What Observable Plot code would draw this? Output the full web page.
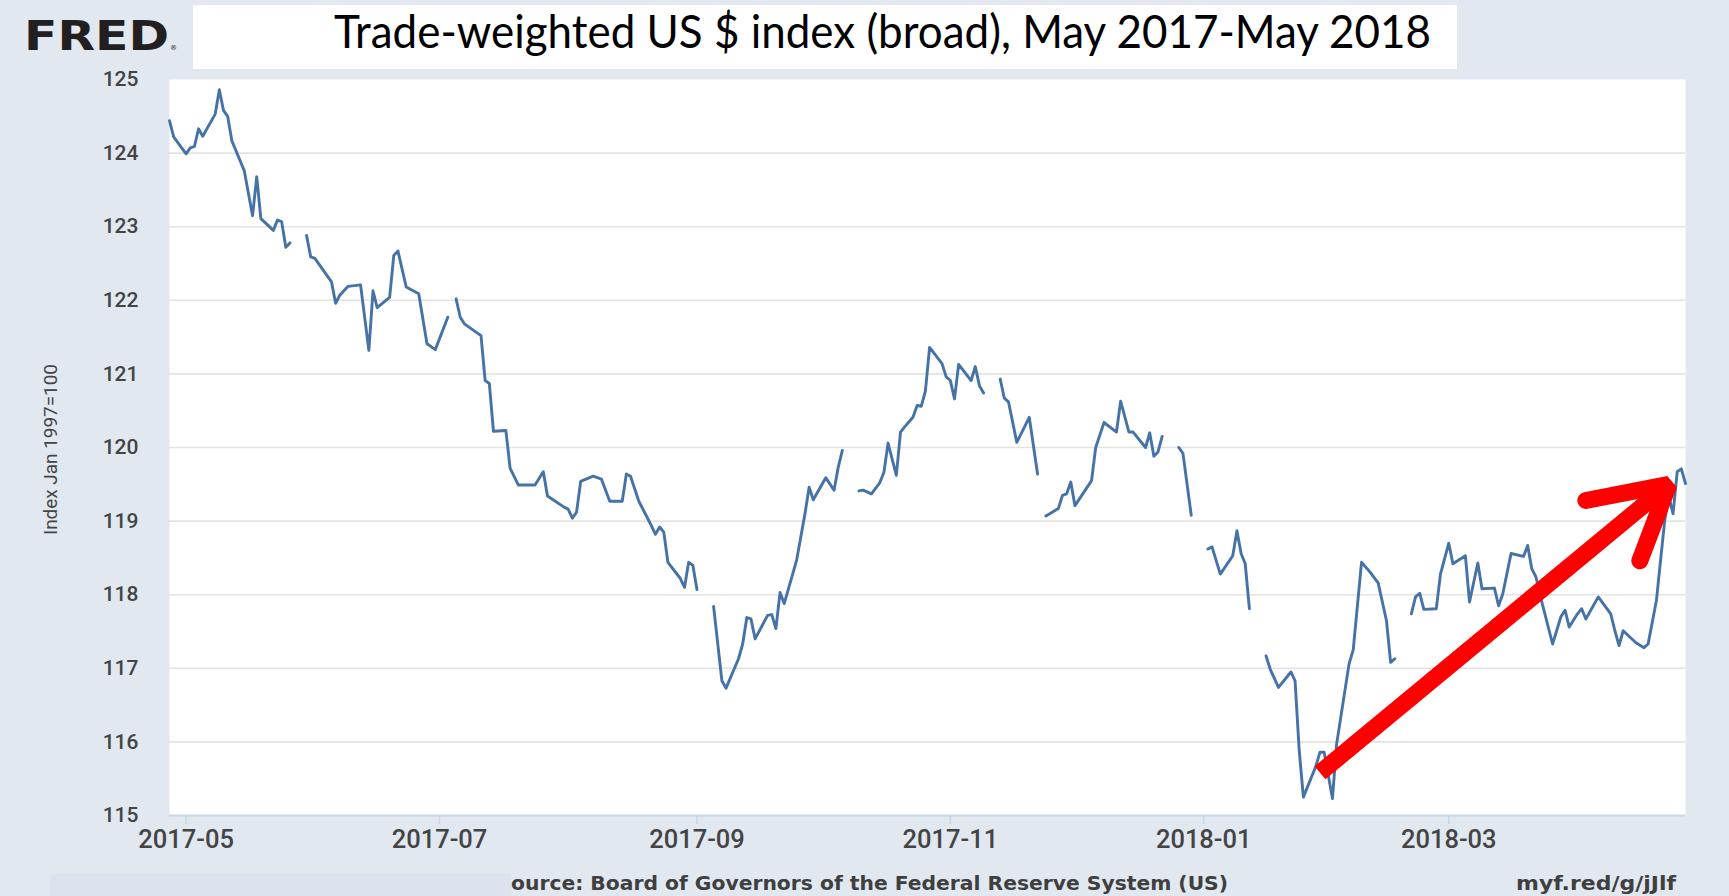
<!DOCTYPE html>
<html>
<head>
<meta charset="utf-8">
<script src="https://cdn.jsdelivr.net/npm/d3@7"></script>
<script src="https://cdn.jsdelivr.net/npm/@observablehq/plot@0.6"></script>
<style>
  html, body { margin: 0; padding: 0; }
  body { width: 1729px; height: 896px; overflow: hidden; background: #e1e8f0; position: relative; }
  #chart { position: absolute; left: 0; top: 0; }
  #overlay { position: absolute; left: 0; top: 0; pointer-events: none; }
</style>
</head>
<body>
<div id="chart"></div>
<svg id="overlay" width="1729" height="896" xmlns="http://www.w3.org/2000/svg">
  <rect x="193" y="5" width="1264" height="64" fill="#ffffff"></rect>
  <text x="334" y="47.5" font-family="Lato, 'Open Sans', sans-serif" font-size="46" fill="#000" textLength="1097" lengthAdjust="spacingAndGlyphs">Trade-weighted US $ index (broad), May 2017-May 2018</text>
  <text x="24" y="50" font-family="'DejaVu Sans', sans-serif" font-weight="bold" font-size="41" fill="#231f20" textLength="145" lengthAdjust="spacingAndGlyphs">FRED</text>
  <text x="170" y="50" font-family="'DejaVu Sans', sans-serif" font-size="7" fill="#231f20">®</text>
  <text transform="translate(57,449.5) rotate(-90)" text-anchor="middle" font-family="Roboto, sans-serif" font-size="18.5" fill="#444" textLength="171" lengthAdjust="spacingAndGlyphs">Index Jan 1997=100</text>
  <rect x="50" y="874" width="461" height="22" fill="#dbe4ee"></rect>
  <text x="511" y="890" font-family="'DejaVu Sans', sans-serif" font-weight="bold" font-size="19" fill="#3f3f3f" textLength="717" lengthAdjust="spacingAndGlyphs">ource: Board of Governors of the Federal Reserve System (US)</text>
  <text x="1516" y="890" font-family="'DejaVu Sans', sans-serif" font-weight="bold" font-size="19" fill="#3f3f3f" textLength="160" lengthAdjust="spacingAndGlyphs">myf.red/g/jJlf</text>
</svg>
<script>
// ---- data (FRED broad trade-weighted dollar index) ----
const xDomain = ["2017-04-27", "2018-04-27"];
const yDomain = [115, 125];
const yTicks = [115, 116, 117, 118, 119, 120, 121, 122, 123, 124, 125];
const gridValues = [116, 117, 118, 119, 120, 121, 122, 123, 124];
const xTicks = ["2017-05-01", "2017-07-01", "2017-09-01", "2017-11-01", "2018-01-01", "2018-03-01"];

const dates = [
  "2017-04-27","2017-04-28","2017-05-01","2017-05-02","2017-05-03","2017-05-04","2017-05-05","2017-05-08","2017-05-09","2017-05-10",
  "2017-05-11","2017-05-12","2017-05-15","2017-05-17","2017-05-18","2017-05-19","2017-05-22","2017-05-23","2017-05-24","2017-05-25",
  "2017-05-26","2017-05-29",
  "2017-05-30","2017-05-31","2017-06-01","2017-06-05","2017-06-06","2017-06-07","2017-06-09","2017-06-12","2017-06-14","2017-06-15",
  "2017-06-16","2017-06-19","2017-06-20","2017-06-21","2017-06-23","2017-06-26","2017-06-28","2017-06-30","2017-07-03","2017-07-04",
  "2017-07-05","2017-07-06","2017-07-07","2017-07-11","2017-07-12","2017-07-13","2017-07-14","2017-07-17","2017-07-18","2017-07-20",
  "2017-07-24","2017-07-26","2017-07-27","2017-07-31","2017-08-01","2017-08-02","2017-08-03","2017-08-04","2017-08-07","2017-08-09",
  "2017-08-11","2017-08-14","2017-08-15","2017-08-16","2017-08-18","2017-08-21","2017-08-22","2017-08-23","2017-08-24","2017-08-25",
  "2017-08-28","2017-08-29","2017-08-30","2017-08-31","2017-09-01","2017-09-04",
  "2017-09-05","2017-09-07","2017-09-08","2017-09-11","2017-09-12","2017-09-13","2017-09-14","2017-09-15","2017-09-18","2017-09-19",
  "2017-09-20","2017-09-21","2017-09-22","2017-09-25","2017-09-27","2017-09-28","2017-09-29","2017-10-02","2017-10-04","2017-10-05",
  "2017-10-06","2017-10-09",
  "2017-10-10","2017-10-11","2017-10-13","2017-10-15","2017-10-16","2017-10-17","2017-10-19","2017-10-20","2017-10-21","2017-10-23",
  "2017-10-24","2017-10-25","2017-10-26","2017-10-27","2017-10-30","2017-10-31","2017-11-01","2017-11-02","2017-11-03","2017-11-06",
  "2017-11-07","2017-11-08","2017-11-09","2017-11-10",
  "2017-11-13","2017-11-14","2017-11-15","2017-11-17","2017-11-20","2017-11-22","2017-11-23",
  "2017-11-24","2017-11-27","2017-11-28","2017-11-29","2017-11-30","2017-12-01","2017-12-05","2017-12-06","2017-12-08","2017-12-11",
  "2017-12-12","2017-12-14","2017-12-15","2017-12-18","2017-12-19","2017-12-20","2017-12-21","2017-12-22","2017-12-25",
  "2017-12-26","2017-12-27","2017-12-29","2018-01-01",
  "2018-01-02","2018-01-03","2018-01-05","2018-01-08","2018-01-09","2018-01-10","2018-01-11","2018-01-12","2018-01-15",
  "2018-01-16","2018-01-17","2018-01-19","2018-01-22","2018-01-23","2018-01-24","2018-01-25","2018-01-28","2018-01-29","2018-01-30",
  "2018-02-01","2018-02-02","2018-02-05","2018-02-06","2018-02-08","2018-02-10","2018-02-12","2018-02-14","2018-02-15","2018-02-16",
  "2018-02-19",
  "2018-02-20","2018-02-21","2018-02-22","2018-02-23","2018-02-26","2018-02-27","2018-03-01","2018-03-02","2018-03-05","2018-03-06",
  "2018-03-08","2018-03-09","2018-03-12","2018-03-13","2018-03-14","2018-03-16","2018-03-19","2018-03-20","2018-03-21","2018-03-22",
  "2018-03-23","2018-03-26","2018-03-28","2018-03-29","2018-03-30","2018-04-01","2018-04-02","2018-04-03","2018-04-06","2018-04-09",
  "2018-04-10","2018-04-11","2018-04-12","2018-04-15","2018-04-17","2018-04-18","2018-04-20","2018-04-21","2018-04-22","2018-04-23",
  "2018-04-24","2018-04-25","2018-04-26","2018-04-27"
];
const values = [
  124.44,124.22,123.99,124.07,124.09,124.33,124.23,124.53,124.86,124.58,
  124.50,124.17,123.76,123.15,123.68,123.11,122.95,123.09,123.07,122.72,
  122.78,null,
  122.88,122.59,122.57,122.25,121.96,122.07,122.19,122.21,121.32,122.13,
  121.90,122.04,122.61,122.67,122.18,122.09,121.41,121.33,121.77,null,
  122.02,121.77,121.68,121.52,120.91,120.87,120.22,120.23,119.72,119.49,
  119.49,119.67,119.34,119.19,119.16,119.04,119.12,119.54,119.61,119.57,
  119.27,119.27,119.64,119.61,119.27,118.94,118.82,118.92,118.85,118.44,
  118.22,118.10,118.44,118.40,118.07,null,
  117.84,116.83,116.73,117.13,117.33,117.69,117.67,117.40,117.72,117.73,
  117.54,118.03,117.88,118.47,119.10,119.46,119.29,119.59,119.42,119.73,
  119.96,null,
  119.41,119.42,119.37,119.52,119.66,120.06,119.62,120.21,120.28,120.41,
  120.57,120.56,120.77,121.36,121.14,120.96,120.91,120.66,121.13,120.91,
  121.10,120.84,120.74,null,
  120.93,120.67,120.62,120.07,120.41,119.64,null,
  119.07,119.17,119.35,119.37,119.53,119.21,119.55,120.00,120.34,120.21,
  120.63,120.21,120.21,120.00,120.20,119.88,119.94,120.15,null,
  120.00,119.92,119.08,null,
  118.62,118.65,118.28,118.53,118.87,118.56,118.42,117.81,null,
  117.17,116.99,116.74,116.95,116.83,115.88,115.25,115.67,115.86,115.86,
  115.23,115.97,117.06,117.25,118.44,118.31,118.16,117.65,117.08,117.13,
  null,
  117.74,117.97,118.02,117.80,117.81,118.28,118.70,118.42,118.53,117.90,
  118.43,118.08,118.09,117.85,118.01,118.56,118.52,118.67,118.35,118.24,
  117.99,117.33,117.70,117.79,117.56,117.74,117.81,117.67,117.97,117.74,
  117.51,117.31,117.51,117.35,117.28,117.33,117.92,118.47,119.01,119.33,
  119.10,119.67,119.71,119.51
];

// red annotation arrow (in data units)
const arrowShaftDates = ["2018-01-29", "2018-04-23"];
const arrowShaftValues = [115.58, 119.50];
const arrowHeadDates = ["2018-04-03", "2018-04-23", "2018-04-16"];
const arrowHeadValues = [119.28, 119.50, 118.46];

// ---- build ----
const parse = d3.utcParse("%Y-%m-%d");
const series = dates.map((d, i) => ({date: parse(d), value: values[i]}));
const shaft = arrowShaftDates.map((d, i) => ({date: parse(d), value: arrowShaftValues[i]}));
const head = arrowHeadDates.map((d, i) => ({date: parse(d), value: arrowHeadValues[i]}));

const chart = Plot.plot({
  width: 1729,
  height: 896,
  marginLeft: 169,
  marginRight: 44,
  marginTop: 79,
  marginBottom: 81,
  style: {background: "transparent", overflow: "visible"},
  x: {type: "utc", domain: xDomain.map(parse)},
  y: {domain: yDomain},
  marks: [
    Plot.frame({fill: "#ffffff", stroke: "none"}),
    Plot.gridY(gridValues, {stroke: "#e3e3e3", strokeOpacity: 1, strokeWidth: 1.6}),
    Plot.ruleY([yDomain[0]], {stroke: "#c8d6e8", strokeWidth: 2}),
    Plot.axisX(xTicks.map(parse), {
      tickSize: 9, tickPadding: 5, stroke: "#c8d6e8", strokeWidth: 1.5,
      fill: "#444", fontSize: 25.5, fontWeight: 500, fontFamily: "Roboto, sans-serif",
      tickFormat: d3.utcFormat("%Y-%m"), label: null
    }),
    Plot.axisY(yTicks, {
      tickSize: 0, tickPadding: 31,
      fill: "#444", fontSize: 21, fontWeight: 500, fontFamily: "Roboto, sans-serif",
      tickFormat: d3.format("d"), label: null
    }),
    Plot.line(series, {x: "date", y: "value", stroke: "#4572a7", strokeWidth: 2.9}),
    Plot.line(shaft, {x: "date", y: "value", stroke: "#ff0000", strokeWidth: 17, strokeLinecap: "butt"}),
    Plot.line(head, {x: "date", y: "value", stroke: "#ff0000", strokeWidth: 17, strokeLinecap: "round", strokeLinejoin: "miter"})
  ]
});
document.getElementById("chart").append(chart);
</script>
</body>
</html>
